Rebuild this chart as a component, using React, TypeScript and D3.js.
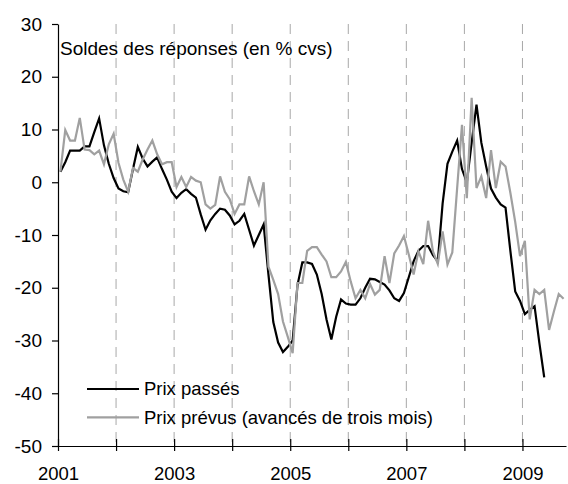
import React, { useRef, useEffect } from 'react';
import * as d3 from 'd3';

const W = 568;
const H = 484;
const FONT = '"Liberation Sans", Arial, sans-serif';

const startYear = 2001;

// Prix passés, monthly from Jan 2001 to May 2009
const prixPasses = [
  2, 3.8, 6, 6, 6, 6.8, 6.8, 9.5, 12.1, 7, 3.5, 0.8,
  -1.2, -1.7, -1.9, 2.5, 6.7, 4.5, 3.0, 3.9, 4.7, 2.5, 0.5, -1.8,
  -3.0, -2.0, -1.3, -2.2, -2.9, -6.1, -9, -7.2, -6, -5, -5.2, -6.3,
  -8, -7.3, -6, -9, -12, -10, -8, -17.5, -26.5, -30.4, -32.2, -31.2,
  -30, -19.5, -15.2, -15.2, -15.5, -17.5, -21.2, -26, -29.8, -25.5, -22.2, -23,
  -23.2, -23.2, -22, -20, -18.3, -18.4, -18.9, -19.4, -20.5, -22, -22.5, -21,
  -18, -15, -13, -12.1, -12.1, -13.8, -15, -4, 3.5, 5.8, 7.9, 2.5,
  0, 7.5, 14.7, 7.5, 3, -1.2, -2.9, -4.2, -4.8, -13, -20.7, -22.5,
  -25, -24.2, -23.5, -30.5, -37,
];

// Prix prévus (avancés de trois mois), monthly from Jan 2001 to Sep 2009
const prixPrevus = [
  2, 9.9, 7.9, 7.9, 12.2, 6.2, 6.1, 5.3, 6.0, 3.4, 7.2, 9.2,
  3.7, 0.5, -1.8, 2.7, 2.0, 4.3, 6.2, 7.9, 5.3, 3.4, 3.8, 3.8,
  -0.9, 1.0, -0.9, 1.0, 0.3, 0.0, -4.2, -5.0, -4.3, 1.1, -1.8, -3.2,
  -6.0, -4.2, -4.2, 1.1, -1.7, -4.2, 0.0, -16, -18.5, -21.2, -26.4, -29.3,
  -32.4, -19.1, -19.1, -13, -12.3, -12.3, -13.7, -15, -18, -18, -16.9, -15.1,
  -18.8, -22, -20.4, -22, -19.3, -21.3, -20.4, -14, -19.1, -13.5, -12, -10.2,
  -13.7, -17.5, -13.1, -15.5, -7.3, -13.1, -15.5, -9.3, -15.6, -13.3, -1.1, 10.9,
  -3.0, 16, -1.1, 1.1, -3.0, 6.1, -1.1, 3.9, 3.0, -2, -7.5, -14,
  -11.1, -26, -20.4, -21.2, -20.4, -28, -24.5, -21.2, -22.1,
];

const yTicks = [30, 20, 10, 0, -10, -20, -30, -40, -50];
const yearTicks = [2001, 2002, 2003, 2004, 2005, 2006, 2007, 2008, 2009];
const yearLabels = [2001, 2003, 2005, 2007, 2009];
const gridYears = [2002, 2003, 2004, 2005, 2006, 2007, 2008, 2009];
const title = 'Soldes des réponses (en % cvs)';
const seriesNames = ['Prix passés', 'Prix prévus (avancés de trois mois)'];
const seriesColors = ['#000000', '#a0a0a0'];

export default function App() {
  const svgRef = useRef<SVGSVGElement>(null);

  useEffect(() => {
    const svg = d3.select(svgRef.current);
    svg.selectAll('*').remove();

    const x = d3.scaleLinear().domain([2001, 2009.75]).range([58, 566]);
    const y = d3.scaleLinear().domain([-50, 30]).range([446, 24]);

    // dashed year gridlines
    svg.append('g')
      .selectAll('line')
      .data(gridYears)
      .join('line')
      .attr('x1', (d) => x(d))
      .attr('x2', (d) => x(d))
      .attr('y1', y(30))
      .attr('y2', y(-50))
      .attr('stroke', '#a8a8a8')
      .attr('stroke-width', 1)
      .attr('stroke-dasharray', '10,7');

    // axes
    const yAxis = svg.append('g')
      .attr('transform', `translate(${x(2001)},0)`)
      .call(
        d3.axisLeft(y)
          .tickValues(yTicks)
          .tickSize(6)
          .tickSizeOuter(0)
          .tickPadding(10)
          .tickFormat((d) => String(d))
      );
    yAxis.selectAll('text')
      .attr('font-family', FONT)
      .attr('font-size', 19)
      .attr('fill', '#000');

    const xAxis = svg.append('g')
      .attr('transform', `translate(0,${y(-50)})`)
      .call(
        d3.axisBottom(x)
          .tickValues(yearTicks)
          .tickSize(5)
          .tickSizeOuter(0)
          .tickFormat((d) => (yearLabels.includes(+d) ? String(d) : ''))
      );
    xAxis.selectAll('.tick line').attr('y1', -7).attr('y2', 5);
    xAxis.selectAll('text')
      .attr('y', 33.5)
      .attr('dy', 0)
      .attr('font-family', FONT)
      .attr('font-size', 18.5)
      .attr('fill', '#000');
    svg.selectAll('.domain, .tick line').attr('stroke', '#000').attr('stroke-width', 1.2);

    // series
    const line = d3.line<number>()
      .x((d, i) => x(startYear + (i + 0.5) / 12))
      .y((d) => y(d));

    [prixPasses, prixPrevus].forEach((vals, k) => {
      svg.append('path')
        .datum(vals)
        .attr('d', line)
        .attr('fill', 'none')
        .attr('stroke', seriesColors[k])
        .attr('stroke-width', 2.2)
        .attr('stroke-linejoin', 'miter');
    });

    // title
    svg.append('text')
      .attr('x', 60)
      .attr('y', 55)
      .attr('font-family', FONT)
      .attr('font-size', 19)
      .text(title);

    // legend
    const leg = svg.append('g');
    seriesNames.forEach((name, k) => {
      const ly = 389 + k * 28.3;
      leg.append('line')
        .attr('x1', 87).attr('x2', 139)
        .attr('y1', ly).attr('y2', ly)
        .attr('stroke', seriesColors[k])
        .attr('stroke-width', 2.2);
      leg.append('text')
        .attr('x', 144)
        .attr('y', ly + 6.3)
        .attr('font-family', FONT)
        .attr('font-size', 18.5)
        .text(name);
    });
  }, []);

  return (
    <svg
      ref={svgRef}
      width={W}
      height={H}
      style={{ position: 'absolute', left: 0, top: 0, background: '#fff' }}
    />
  );
}
